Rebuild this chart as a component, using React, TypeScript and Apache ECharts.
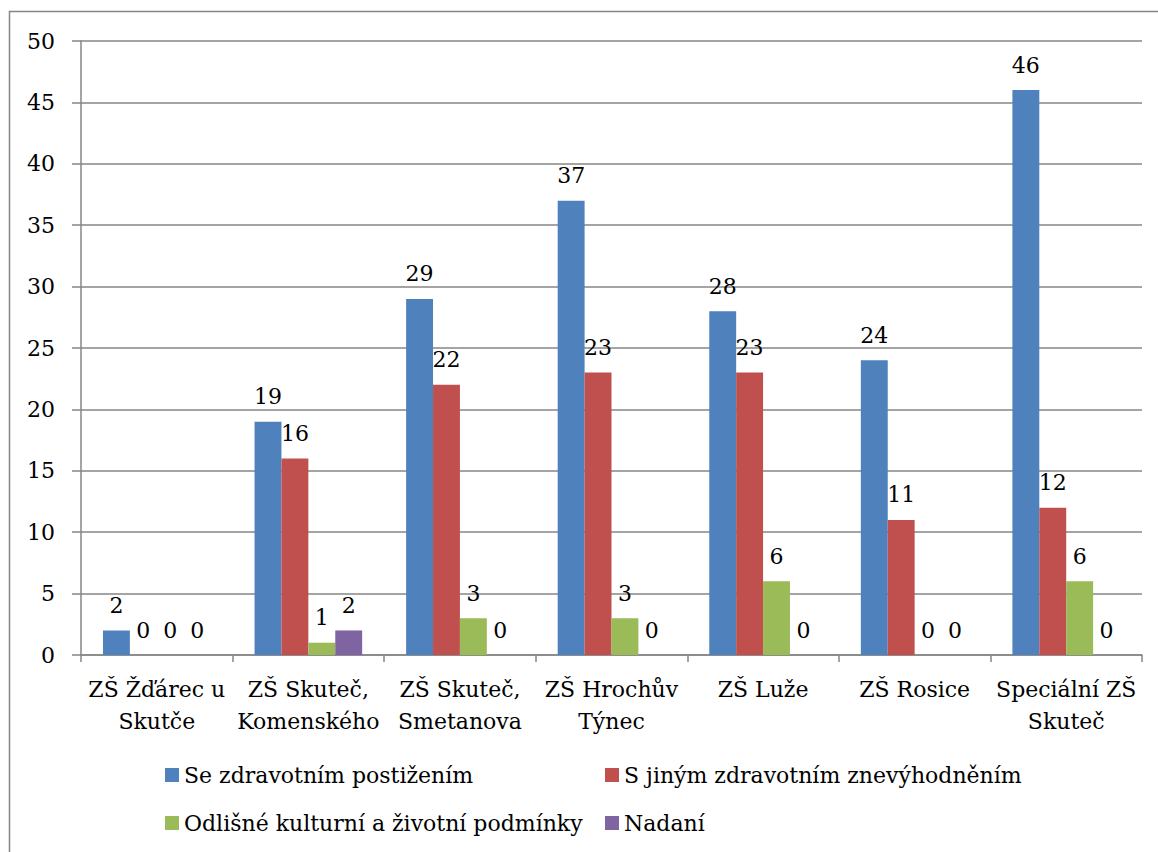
import React, { useEffect, useRef } from "react";
import * as echarts from "echarts";

const categories = [
  "ZŠ Žďárec u\nSkutče",
  "ZŠ Skuteč,\nKomenského",
  "ZŠ Skuteč,\nSmetanova",
  "ZŠ Hrochův\nTýnec",
  "ZŠ Luže",
  "ZŠ Rosice",
  "Speciální ZŠ\nSkuteč",
];
const seriesNames = [
  "Se zdravotním postižením",
  "S jiným zdravotním znevýhodněním",
  "Odlišné kulturní a životní podmínky",
  "Nadaní",
];
const zdravotniPostizeni = [2, 19, 29, 37, 28, 24, 46];
const jineZnevyhodneni = [0, 16, 22, 23, 23, 11, 12];
const odlisnePodminky = [0, 1, 3, 3, 6, 0, 6];
const nadani = [0, 2, 0, 0, 0, 0, 0];
const seriesValues = [zdravotniPostizeni, jineZnevyhodneni, odlisnePodminky, nadani];
const colors = ["#4F81BD", "#C0504D", "#9BBB59", "#8064A2"];

const FONT = "DejaVu Serif";
const FS = 22;

export default function App() {
  const ref = useRef<HTMLDivElement>(null);
  useEffect(() => {
    if (!ref.current) return;
    const chart = echarts.init(ref.current, null, { renderer: "svg" });
    chart.setOption({
      animation: false,
      backgroundColor: "#ffffff",
      textStyle: { fontFamily: FONT, color: "#000" },
      graphic: [
        {
          type: "rect",
          shape: { x: 9.5, y: 11.5, width: 1300, height: 1000 },
          style: { fill: "none", stroke: "#868686", lineWidth: 1.5 },
          silent: true,
        },
      ],
      legend: [
        {
          data: [seriesNames[0], seriesNames[2]],
          orient: "vertical",
          left: 160,
          top: 759,
          itemWidth: 14,
          itemHeight: 14,
          itemGap: 26,
          icon: "rect",
          textStyle: { fontFamily: FONT, fontSize: FS, color: "#000" },
        },
        {
          data: [seriesNames[1], seriesNames[3]],
          orient: "vertical",
          left: 600,
          top: 759,
          itemWidth: 14,
          itemHeight: 14,
          itemGap: 26,
          icon: "rect",
          textStyle: { fontFamily: FONT, fontSize: FS, color: "#000" },
        },
      ],
      grid: { left: 81, top: 41, right: 16, bottom: 197, containLabel: false },
      xAxis: {
        type: "category",
        data: categories,
        axisLine: { lineStyle: { color: "#868686", width: 1.5 } },
        axisTick: { show: true, length: 7, lineStyle: { color: "#868686", width: 1.5 } },
        axisLabel: {
          interval: 0,
          margin: 18,
          fontFamily: FONT,
          fontSize: FS,
          color: "#000",
          lineHeight: 32,
        },
      },
      yAxis: {
        type: "value",
        min: 0,
        max: 50,
        interval: 5,
        axisLine: { show: true, lineStyle: { color: "#868686", width: 1.5 } },
        axisTick: { show: true, length: 9, lineStyle: { color: "#868686", width: 1.5 } },
        splitLine: { lineStyle: { color: "#868686", width: 1.5 } },
        axisLabel: { margin: 26, fontFamily: FONT, fontSize: FS, color: "#000" },
      },
      series: seriesNames.map((name, i) => ({
        name,
        type: "bar",
        data: seriesValues[i],
        itemStyle: { color: colors[i] },
        barGap: "0%",
        barCategoryGap: "29%",
        label: {
          show: true,
          position: "top",
          distance: 14,
          fontFamily: FONT,
          fontSize: FS,
          color: "#000",
        },
      })),
    });
    return () => chart.dispose();
  }, []);
  return (
    <div
      ref={ref}
      style={{ position: "fixed", left: 0, top: 0, width: 1158, height: 852 }}
    />
  );
}
